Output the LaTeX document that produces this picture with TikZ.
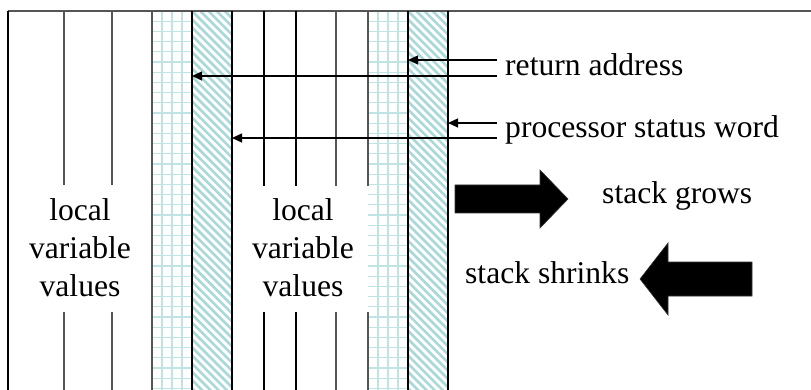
\documentclass[tikz,border=0pt]{standalone}
\usepackage{fontspec}
\newfontfamily\fa{Liberation Serif}
\usetikzlibrary{arrows.meta}
\definecolor{hatchc}{RGB}{168,216,216}
\definecolor{gridc}{RGB}{192,228,228}
\definecolor{lineg}{RGB}{85,85,85}
\begin{document}
\begin{tikzpicture}[x=1pt,y=-1pt,
  txt/.style={inner sep=0pt,font=\fa\fontsize{31.6}{37}\selectfont},
  blackline/.style={line width=1.6pt, black},
  greyline/.style={line width=1.6pt, lineg},
  ptr/.style={line width=1.3pt, -{Triangle[length=10pt,width=9pt]}},
  hatchline/.style={hatchc, line width=2.6pt},
  gridline/.style={gridc, line width=1.1pt},
  bigarrow/.style={fill=black, draw=black!80, line width=0.6pt}]
\useasboundingbox (0,0) rectangle (811,390);
% labels
\node[txt,anchor=base west] (ra) at (505,76) {return address};
\node[txt,anchor=base west] (psw) at (505,138) {processor status word};
\node[txt,anchor=base west] (grow) at (602,204) {stack grows};
\node[txt,anchor=base west] (shrink) at (465,283) {stack shrinks};
\node[txt,anchor=base] (l1a) at (80,221) {local};
\node[txt,anchor=base] (l1b) at (80,258.5) {variable};
\node[txt,anchor=base] (l1c) at (80,296) {values};
\node[txt,anchor=base] (l2a) at (303,221) {local};
\node[txt,anchor=base] (l2b) at (303,258.5) {variable};
\node[txt,anchor=base] (l2c) at (303,296) {values};
% patterns
\foreach \gx in {152,368}{
  \begin{scope}
    \clip (\gx,11) rectangle (\gx+40,390);
    \foreach \k in {1,2,3} \draw[gridline] (\gx+10*\k,11) -- (\gx+10*\k,390);
    \foreach \k in {1,...,37} \draw[gridline] (\gx,11+10.2*\k) -- (\gx+40,11+10.2*\k);
  \end{scope}
  \begin{scope}
    \clip (\gx+40,11) rectangle (\gx+80,390);
    \foreach \k in {-48,...,6} \draw[hatchline] (\gx+40+8.2*\k,11) -- (\gx+440+8.2*\k,411);
  \end{scope}
}
% frame
\draw[greyline] (811,11) -- (8,11);
\draw[blackline] (8,11) -- (8,390);
% left block dividers
\foreach \x in {64,112}{
  \draw[greyline] (\x,11) -- (\x,185);
  \draw[greyline] (\x,312) -- (\x,390);
}
\draw[greyline] (152,11) -- (152,390);
\draw[blackline] (192,11) -- (192,390);
\draw[blackline] (232,11) -- (232,390);
% middle block dividers
\foreach \x/\s in {264/blackline,296/blackline,336/greyline,368/greyline}{
  \draw[\s] (\x,11) -- (\x,186);
  \draw[\s] (\x,312) -- (\x,390);
}
\draw[blackline] (408,11) -- (408,390);
\draw[blackline] (448,11) -- (448,390);
% pointer coordinates
\coordinate (raS1) at (497,60);  \coordinate (raT1) at (408,60);
\coordinate (raS2) at (497,76);  \coordinate (raT2) at (192,76);
\coordinate (psS1) at (497,123); \coordinate (psT1) at (448,123);
\coordinate (psS2) at (497,138); \coordinate (psT2) at (232,138);
\draw[ptr] (raS1) -- (raT1);
\draw[ptr] (raS2) -- (raT2);
\draw[ptr] (psS1) -- (psT1);
\draw[ptr] (psS2) -- (psT2);
% big arrows
\draw[bigarrow] (455,185) -- (540,185) -- (540,170) -- (568,199) -- (540,228) -- (540,213) -- (455,213) -- cycle;
\draw[bigarrow] (752,262) -- (668,262) -- (668,243) -- (640,279) -- (668,315) -- (668,296) -- (752,296) -- cycle;
\end{tikzpicture}
\end{document}
